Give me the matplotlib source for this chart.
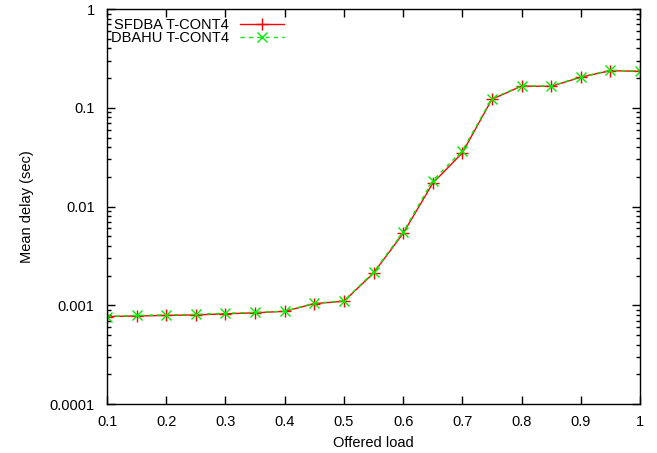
import numpy as np
import matplotlib.pyplot as plt
from matplotlib.ticker import LogLocator, FixedLocator, NullFormatter

plt.rcParams['font.family'] = ['Liberation Sans', 'DejaVu Sans']
plt.rcParams['font.size'] = 10.5

# offered load vs mean delay for both schedulers
load = [0.1, 0.15, 0.2, 0.25, 0.3, 0.35, 0.4, 0.45, 0.5, 0.55,
        0.6, 0.65, 0.7, 0.75, 0.8, 0.85, 0.9, 0.95, 1.0]
sfdba = [0.00077, 0.00078, 0.00079, 0.00080, 0.00082, 0.00084, 0.00087, 0.00104, 0.00110, 0.00212,
         0.00535, 0.0172, 0.0350, 0.122, 0.166, 0.165, 0.204, 0.238, 0.234]
dbahu = [0.00077, 0.00079, 0.00080, 0.00081, 0.00083, 0.00085, 0.00087, 0.00105, 0.00111, 0.00216,
         0.00550, 0.0183, 0.0368, 0.124, 0.167, 0.166, 0.206, 0.240, 0.236]

xticks = [0.1, 0.2, 0.3, 0.4, 0.5, 0.6, 0.7, 0.8, 0.9, 1.0]
xlabels = ['0.1', '0.2', '0.3', '0.4', '0.5', '0.6', '0.7', '0.8', '0.9', '1']
yticks = [0.0001, 0.001, 0.01, 0.1, 1]
ylabels = ['0.0001', '0.001', '0.01', '0.1', '1']

fig = plt.figure(figsize=(6.57, 4.53), dpi=100)
ax = fig.add_axes([0.163, 0.108, 0.811, 0.872])

ax.plot(load, sfdba, color='#ff0000', lw=1, marker='+', ms=9, mew=1,
        label='SFDBA T-CONT4')
ax.plot(load, dbahu, color='#00ee00', lw=1, ls=(0, (3, 3)), marker='x', ms=7, mew=1,
        label='DBAHU T-CONT4')

ax.set_yscale('log')
ax.set_xlim(0.1, 1.0)
ax.set_ylim(0.0001, 1)
ax.set_xticks(xticks)
ax.set_xticklabels(xlabels)
ax.yaxis.set_major_locator(FixedLocator(yticks))
ax.set_yticklabels(ylabels)
ax.yaxis.set_minor_locator(LogLocator(base=10, subs=np.arange(2, 10)))
ax.yaxis.set_minor_formatter(NullFormatter())

ax.tick_params(which='both', direction='in', top=True, right=True)
ax.tick_params(axis='x', pad=8)
ax.tick_params(axis='y', pad=9)
ax.tick_params(which='major', length=6, width=1)
ax.tick_params(which='minor', length=3, width=1)
for s in ax.spines.values():
    s.set_linewidth(1)

ax.set_xlabel('Offered load', labelpad=5)
ax.set_ylabel('Mean delay (sec)', labelpad=11)

ax.legend(loc='upper left', bbox_to_anchor=(-0.01, 1.0), frameon=False,
          markerfirst=False, handlelength=3.0, handletextpad=0.8,
          labelspacing=-0.05, borderaxespad=0.2)

fig.savefig('out.png', dpi=100)
